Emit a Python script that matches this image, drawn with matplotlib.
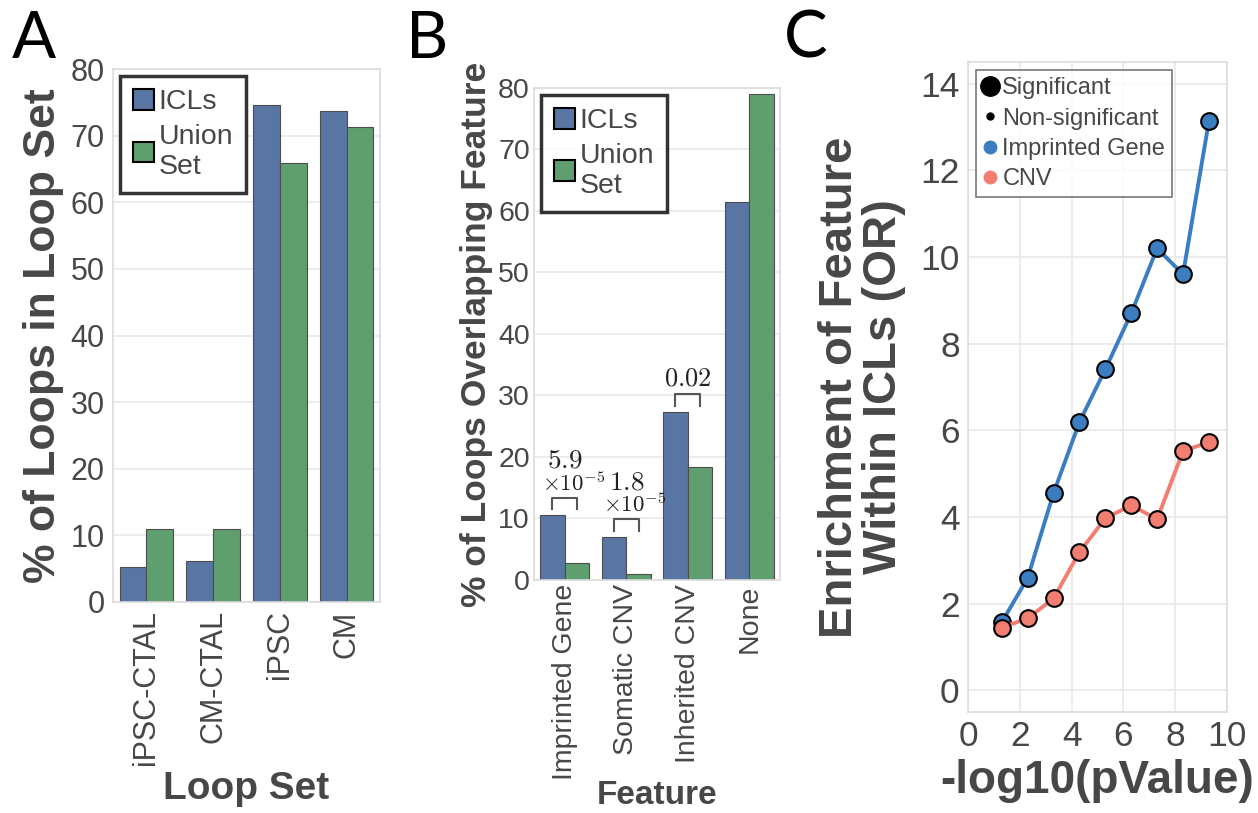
import matplotlib
matplotlib.use("Agg")
import matplotlib.pyplot as plt
from matplotlib.lines import Line2D
import numpy as np

plt.rcParams['font.family'] = ['Liberation Sans', 'DejaVu Sans']
plt.rcParams['mathtext.fontset'] = 'cm'

# panel A data
loop_sets = ["iPSC-CTAL", "CM-CTAL", "iPSC", "CM"]
a_icls = [5.2, 6.1, 74.6, 73.7]
a_union = [11.0, 11.0, 65.9, 71.3]

# panel B data
features = ["Imprinted Gene", "Somatic CNV", "Inherited CNV", "None"]
b_icls = [10.5, 7.0, 27.3, 61.4]
b_union = [2.7, 1.0, 18.4, 79.0]
b_pvals = [r"$5.9$", r"$1.8$", r"$0.02$", None]
b_exps = [r"$\times10^{-5}$", r"$\times10^{-5}$", None, None]

# panel C data
neglog_p = [1.3, 2.3, 3.3, 4.3, 5.3, 6.3, 7.3, 8.3, 9.3]
or_imprinted = [1.57, 2.59, 4.55, 6.19, 7.41, 8.70, 10.2, 9.6, 13.14]
or_cnv = [1.45, 1.66, 2.12, 3.19, 3.97, 4.27, 3.95, 5.52, 5.73]

blue_bar = "#5875a4"
green_bar = "#5f9e6e"
blue_line = "#3b7dc1"
red_line = "#f17e70"
txt = "#474747"
grid_c = "#e9e9e9"
spine_c = "#dcdcdc"

fig = plt.figure(figsize=(12.58, 8.13), dpi=100)


def style_ax(ax, tick_size, pad=6):
    for s in ax.spines.values():
        s.set_color(spine_c)
        s.set_linewidth(1.2)
    ax.grid(True, axis='y', color=grid_c, linewidth=1.2)
    ax.set_axisbelow(True)
    ax.tick_params(length=0, labelsize=tick_size, colors=txt, pad=pad)


def bar_panel(ax, cats, v1, v2, tick_size, xt_size, pad=6):
    x = np.arange(len(cats))
    ax.bar(x - 0.2, v1, 0.4, color=blue_bar, edgecolor="#4d4d4d", linewidth=0.8, label="ICLs")
    ax.bar(x + 0.2, v2, 0.4, color=green_bar, edgecolor="#4d4d4d", linewidth=0.8, label="Union\nSet")
    ax.set_xlim(-0.5, len(cats) - 0.5)
    ax.set_ylim(0, 80)
    ax.set_xticks(x)
    ax.set_xticklabels(cats, rotation=90, fontsize=xt_size)
    style_ax(ax, tick_size, pad)
    leg = ax.legend(loc='upper left', fontsize=20.5, frameon=True, fancybox=False,
                    handlelength=0.75, handleheight=0.75, handletextpad=0.15,
                    borderpad=0.45, labelspacing=0.3, borderaxespad=0.25,
                    labelcolor=txt)
    leg.get_frame().set_edgecolor('black')
    leg.get_frame().set_linewidth(2.5)
    for h in leg.legend_handles:
        h.set_edgecolor('black')
        h.set_linewidth(1.5)
    return x


# A
axA = fig.add_axes([0.0898, 0.2596, 0.2122, 0.6554])
bar_panel(axA, loop_sets, a_icls, a_union, 22, 22)
axA.set_yticks(range(0, 81, 10))
axA.set_ylabel("% of Loops in Loop Set", fontsize=32, fontweight='bold', color=txt, labelpad=5)
axA.set_xlabel("Loop Set", fontsize=28, fontweight='bold', color=txt, labelpad=4)

# B
axB = fig.add_axes([0.4245, 0.2866, 0.1955, 0.6052])
xb = bar_panel(axB, features, b_icls, b_union, 20.5, 19, pad=3)
axB.set_yticks(range(0, 81, 10))
axB.set_ylabel("% of Loops Overlapping Feature", fontsize=25.5, fontweight='bold', color=txt, labelpad=4)
axB.set_xlabel("Feature", fontsize=24, fontweight='bold', color=txt, labelpad=0)

for i in range(len(features)):
    if b_pvals[i] is None:
        continue
    top = max(b_icls[i], b_union[i])
    y0, y1 = top + 1.0, top + 2.9
    axB.plot([xb[i] - 0.2, xb[i] - 0.2, xb[i] + 0.2, xb[i] + 0.2], [y0, y1, y1, y0],
             color="#555555", linewidth=1.5, clip_on=False)
    if b_exps[i] is None:
        axB.text(xb[i], y1 + 0.6, b_pvals[i], ha='center', va='bottom', fontsize=19, color='#222222')
    else:
        axB.text(xb[i] + 0.14, y1 + 0.3, b_exps[i], ha='center', va='bottom', fontsize=16.5, color='#222222')
        axB.text(xb[i], y1 + 3.9, b_pvals[i], ha='center', va='bottom', fontsize=19.5, color='#222222')

# C
axC = fig.add_axes([0.7695, 0.1242, 0.2059, 0.7995])
axC.plot(neglog_p, or_imprinted, color=blue_line, linewidth=2.8, marker='o', markersize=12,
         markerfacecolor=blue_line, markeredgecolor='black', markeredgewidth=1.5, zorder=3)
axC.plot(neglog_p, or_cnv, color=red_line, linewidth=2.8, marker='o', markersize=12,
         markerfacecolor=red_line, markeredgecolor='black', markeredgewidth=1.5, zorder=4)
axC.set_xlim(0, 10)
axC.set_ylim(-0.5, 14.5)
axC.set_xticks(range(0, 11, 2))
axC.set_yticks(range(0, 15, 2))
style_ax(axC, 25.5)
axC.grid(True, axis='x', color=grid_c, linewidth=1.2)
axC.set_xlabel("-log10(pValue)", fontsize=33, fontweight='bold', color=txt, labelpad=4)
axC.set_ylabel("Enrichment of Feature\nWithin ICLs (OR)", fontsize=34, fontweight='bold',
               color=txt, labelpad=10, linespacing=1.0)

handles = [
    Line2D([], [], linestyle='none', marker='o', markersize=14, color='black'),
    Line2D([], [], linestyle='none', marker='o', markersize=5, color='black'),
    Line2D([], [], linestyle='none', marker='o', markersize=9, color=blue_line),
    Line2D([], [], linestyle='none', marker='o', markersize=9, color=red_line),
]
legC = axC.legend(handles, ["Significant", "Non-significant", "Imprinted Gene", "CNV"],
                  loc='upper left', fontsize=17, frameon=True, fancybox=False,
                  handlelength=0.6, handletextpad=0.2, borderpad=0.3, labelspacing=0.35,
                  borderaxespad=0.35, labelcolor=txt)
legC.get_frame().set_edgecolor('#555555')
legC.get_frame().set_linewidth(1.2)

for lx, letter in [(0.009, "A"), (0.323, "B"), (0.623, "C")]:
    fig.text(lx, 1 - 58 / 813, letter, fontsize=47, family='Lato', va='baseline', ha='left')

fig.savefig("out.png", dpi=100)
